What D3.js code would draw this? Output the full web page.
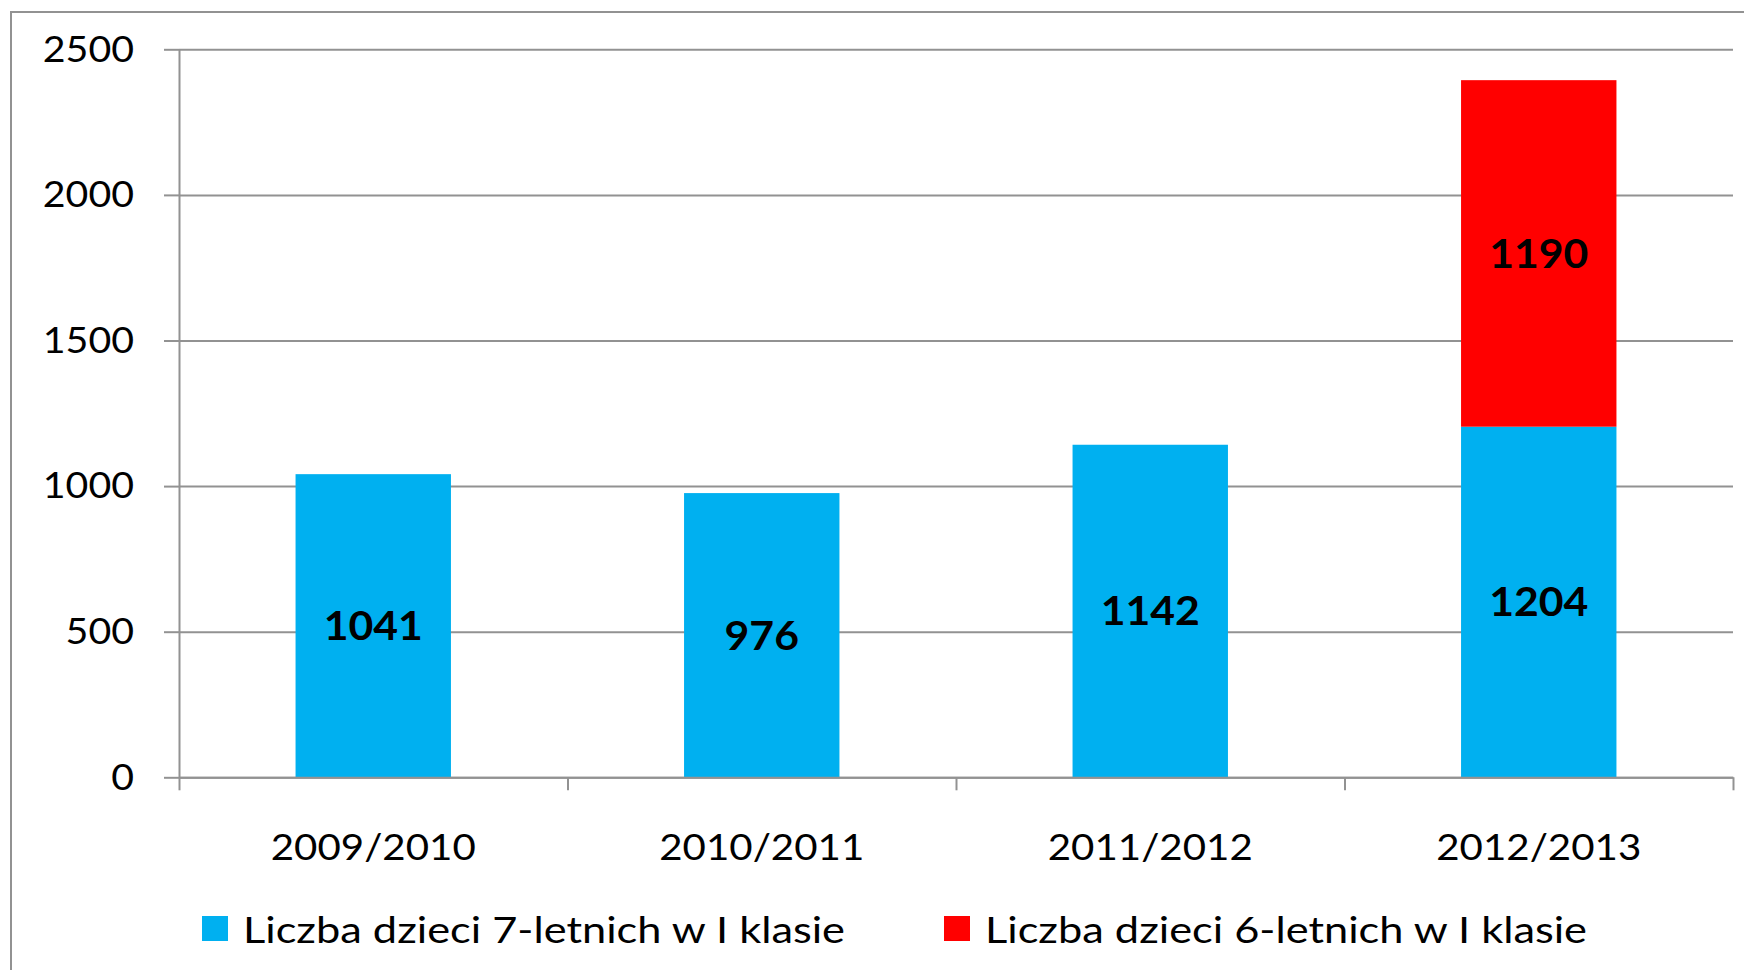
<!DOCTYPE html>
<html>
<head>
<meta charset="utf-8">
<script src="https://cdn.jsdelivr.net/npm/d3@7"></script>
<style>
  body { margin: 0; background: #fff; }
  text { font-family: Lato, "Open Sans", sans-serif; fill: #000; }
</style>
</head>
<body>
<svg id="chart" width="1744" height="970"></svg>
<script>
let categories = ["2009/2010", "2010/2011", "2011/2012", "2012/2013"];
let sevenYear = [1041, 976, 1142, 1204];
let sixYear = [0, 0, 0, 1190];
let seriesNames = ["Liczba dzieci 7-letnich w I klasie", "Liczba dzieci 6-letnich w I klasie"];
let yTicks = [0, 500, 1000, 1500, 2000, 2500];

let colors = ["#00B0F0", "#FF0000"];
let gray = "#929292";

let svg = d3.select("#chart");
svg.append("rect").attr("width", 1744).attr("height", 970).attr("fill", "#fff");

// frame (only left and top edge visible)
svg.append("path")
  .attr("d", "M11,970V12H1744")
  .attr("fill", "none")
  .attr("stroke", gray)
  .attr("stroke-width", 2);

let margin = { top: 49.3, right: 11, bottom: 192.7, left: 179 };
let plotWidth = 1744 - margin.left - margin.right;
let plotHeight = 970 - margin.top - margin.bottom;

let x = d3.scaleBand()
  .domain(categories)
  .range([0, plotWidth])
  .paddingInner(0.6)
  .paddingOuter(0.3);
let y = d3.scaleLinear()
  .domain([0, 2500])
  .range([plotHeight, 0]);

// the source font is a wide Calibri: digits are all the same width
let digitW = 22.8;

let plot = svg.append("g")
  .attr("transform", "translate(" + margin.left + "," + margin.top + ")");

// gridlines
plot.append("g")
  .attr("class", "gridlines")
  .call(d3.axisLeft(y).tickValues(yTicks).tickFormat("").tickSize(-plotWidth))
  .call(g => g.select(".domain").remove())
  .call(g => g.selectAll("line").attr("stroke", gray).attr("stroke-width", 2));

// y axis
plot.append("g")
  .attr("class", "y-axis")
  .call(d3.axisLeft(y).tickValues(yTicks).tickFormat(d3.format("d"))
    .tickSize(15).tickSizeOuter(0).tickPadding(30))
  .call(g => g.select(".domain").attr("stroke", gray).attr("stroke-width", 2))
  .call(g => g.selectAll("line").attr("stroke", gray).attr("stroke-width", 2))
  .call(g => g.selectAll("text")
    .style("font-size", "37px").attr("fill", "#000")
    .attr("textLength", function(d) { return String(d).length * digitW; })
    .attr("lengthAdjust", "spacingAndGlyphs"));

// stacked bars
let table = categories.map(function(c, i) {
  return { cat: c, seven: sevenYear[i], six: sixYear[i] };
});
let stacked = d3.stack().keys(["seven", "six"])(table);

let layers = plot.selectAll(".layer")
  .data(stacked)
  .enter().append("g")
  .attr("class", "layer")
  .attr("fill", function(d, i) { return colors[i]; });

layers.selectAll("rect")
  .data(function(d) { return d.filter(function(p) { return p[1] > p[0]; }); })
  .enter().append("rect")
  .attr("x", function(d) { return x(d.data.cat); })
  .attr("width", x.bandwidth())
  .attr("y", function(d) { return y(d[1]); })
  .attr("height", function(d) { return y(d[0]) - y(d[1]); });

// value labels
layers.selectAll("text")
  .data(function(d) { return d.filter(function(p) { return p[1] > p[0]; }); })
  .enter().append("text")
  .attr("x", function(d) { return x(d.data.cat) + x.bandwidth() / 2; })
  .attr("y", function(d) { return (y(d[0]) + y(d[1])) / 2; })
  .attr("dy", "0.36em")
  .style("text-anchor", "middle")
  .style("font-size", "40px")
  .style("font-weight", "bold")
  .attr("textLength", function(d) { return String(d[1] - d[0]).length * 24.8; })
  .attr("lengthAdjust", "spacingAndGlyphs")
  .text(function(d) { return d[1] - d[0]; });

// x axis line + category labels
plot.append("g")
  .attr("class", "x-axis")
  .attr("transform", "translate(0," + plotHeight + ")")
  .call(d3.axisBottom(x).tickSize(0).tickSizeOuter(0))
  .call(g => g.select(".domain").attr("stroke", gray).attr("stroke-width", 2))
  .call(g => g.selectAll("text")
    .attr("y", 83).attr("dy", 0)
    .style("font-size", "37px").attr("fill", "#000")
    .attr("textLength", 205)
    .attr("lengthAdjust", "spacingAndGlyphs"));

// boundary ticks between categories
let xEdges = d3.scaleLinear().domain([0, categories.length]).range([0, plotWidth]);
plot.append("g")
  .attr("transform", "translate(0," + plotHeight + ")")
  .call(d3.axisBottom(xEdges).ticks(categories.length).tickFormat("").tickSize(13))
  .call(g => g.select(".domain").remove())
  .call(g => g.selectAll("line").attr("stroke", gray).attr("stroke-width", 2));

// legend
let legendX = [202, 944];
let legend = svg.selectAll(".legend")
  .data(seriesNames)
  .enter().append("g")
  .attr("class", "legend")
  .attr("transform", function(d, i) { return "translate(" + legendX[i] + ",916)"; });

legend.append("rect")
  .attr("width", 26)
  .attr("height", 25)
  .attr("fill", function(d, i) { return colors[i]; });

legend.append("text")
  .attr("x", 41)
  .attr("y", 27)
  .style("font-size", "37px")
  .attr("textLength", 602)
  .attr("lengthAdjust", "spacingAndGlyphs")
  .text(function(d) { return d; });
</script>
</body>
</html>
